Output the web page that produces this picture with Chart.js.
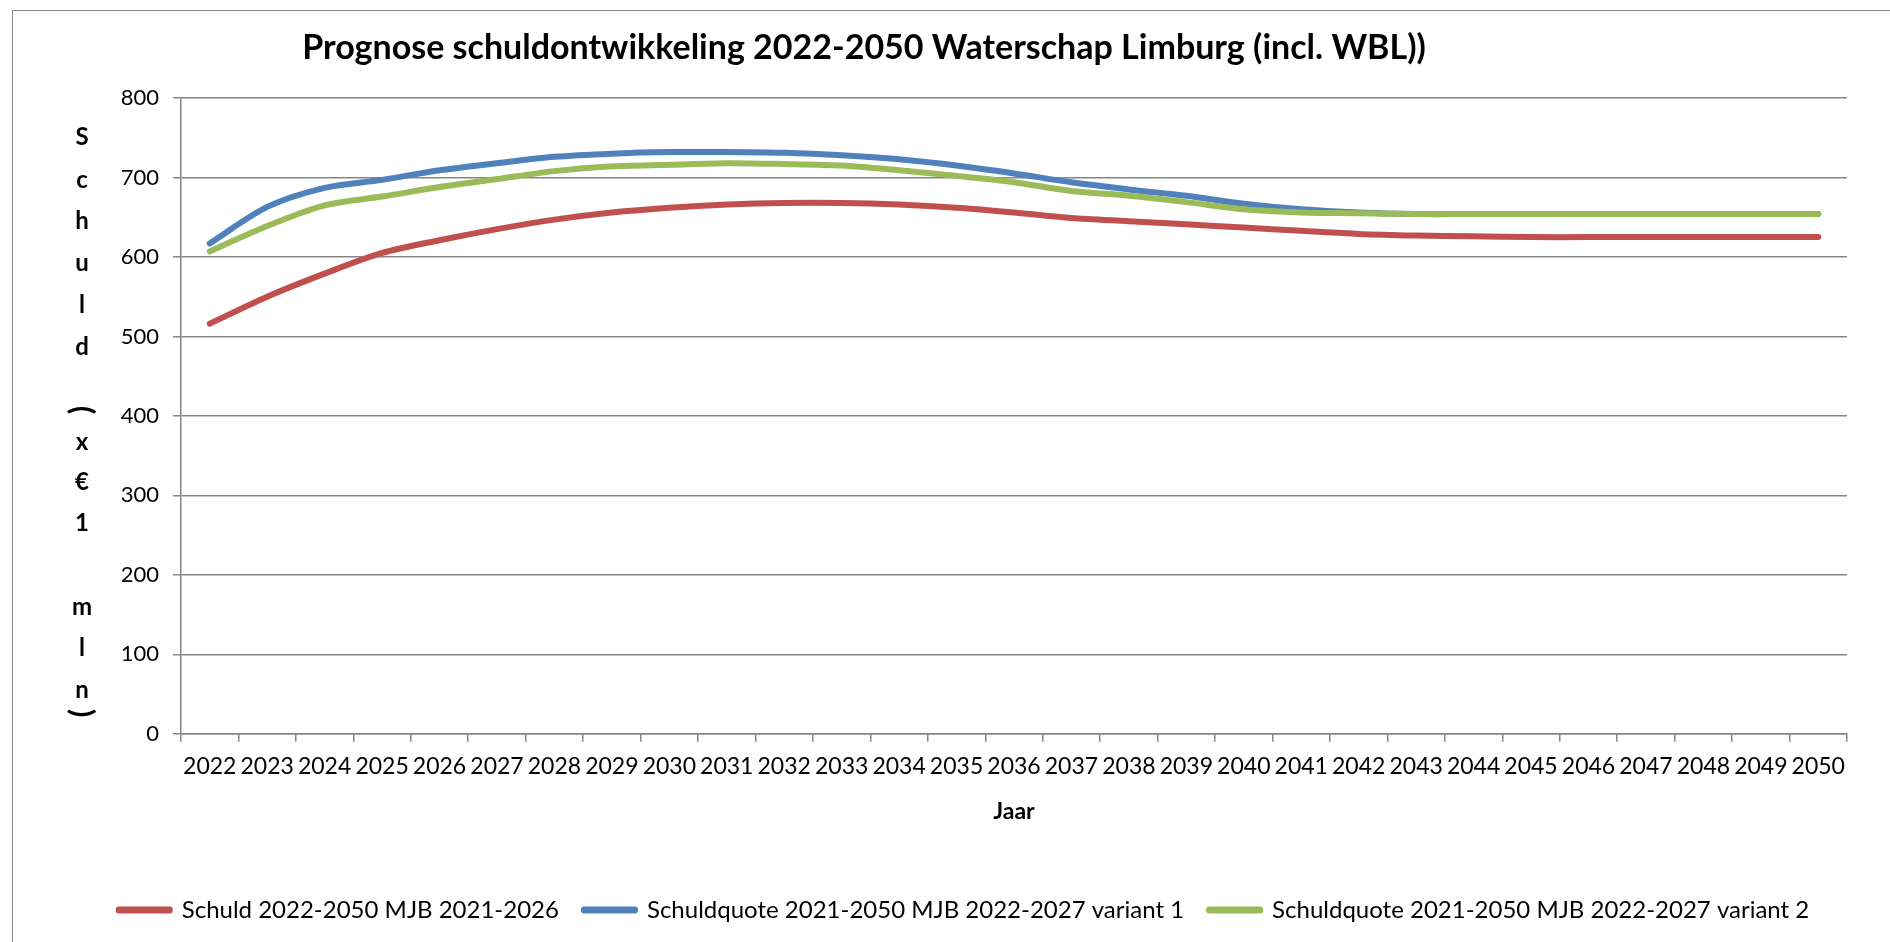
<!DOCTYPE html>
<html>
<head>
<meta charset="utf-8">
<script src="https://cdn.jsdelivr.net/npm/chart.js@4.4.1/dist/chart.umd.min.js"></script>
<style>
  html, body { margin:0; padding:0; background:#fff; overflow:hidden; }
  #wrap { position:relative; width:1890px; height:942px; }
  #frame { position:absolute; left:12px; top:10px; width:2000px; height:2000px; border:1.5px solid #868686; box-sizing:border-box; }
  canvas { position:absolute; left:0; top:0; }
</style>
</head>
<body>
<div id="wrap">
  <div id="frame"></div>
  <canvas id="chart-schuld" width="1890" height="942"></canvas>
</div>
<script>
// ============================================================
// PROGNOSE SCHULDONTWIKKELING
// ============================================================

const jaren = ['2022','2023','2024','2025','2026','2027','2028','2029','2030','2031',
  '2032','2033','2034','2035','2036','2037','2038','2039','2040','2041',
  '2042','2043','2044','2045','2046','2047','2048','2049','2050'];

// Schuld 2022-2050 MJB 2021-2026
const schuldMjb2021 = [516, 550, 579, 605, 621, 635, 647, 656, 662, 666,
  668, 668, 666, 662, 656, 649, 645, 641, 637, 633,
  629, 627, 626, 625, 625, 625, 625, 625, 625];

// Schuldquote variant 1
const quoteVariant1 = [617, 663, 687, 697, 709, 718, 726, 730, 732, 732,
  731, 728, 723, 715, 705, 694, 685, 677, 667, 660,
  656, 654, 654, 654, 654, 654, 654, 654, 654];

// Schuldquote variant 2
const quoteVariant2 = [607, 639, 665, 676, 688, 698, 708, 714, 716, 718,
  717, 715, 709, 702, 694, 683, 677, 669, 660, 656,
  655, 654, 654, 654, 654, 654, 654, 654, 654];

const yTicks = [0, 100, 200, 300, 400, 500, 600, 700, 800];

const FONT = 'Lato, "Open Sans", sans-serif';
const GRID = '#868686';

// verticale as-titel, gestapelde letters zoals in Excel
const yTitleChars = [
  ['S',137],['c',180],['h',221],['u',263],['l',305],['d',347],
  ['(',410],['x',442],['€',482],['1',523],['m',607],['l',648],['n',690],[')',713]
];

const tekstPlugin = {
  id: 'tekst',
  afterDraw(chart) {
    const ctx = chart.ctx;
    ctx.save();
    ctx.fillStyle = '#000';
    ctx.font = 'bold 34px ' + FONT;
    ctx.textAlign = 'center';
    ctx.textBaseline = 'middle';
    ctx.fillText('Prognose schuldontwikkeling 2022-2050 Waterschap Limburg (incl. WBL))', 864, 48);

    ctx.font = 'bold 24px ' + FONT;
    yTitleChars.forEach(([ch, y]) => {
      if (ch === '(' || ch === ')') {
        ctx.save();
        ctx.translate(82, y);
        ctx.rotate(Math.PI / 2);
        ctx.font = 'bold 30px ' + FONT;
        ctx.fillText(ch, 0, 0);
        ctx.restore();
      } else {
        ctx.fillText(ch, 82, y);
      }
    });
    ctx.restore();
  }
};

const ds = (label, data, color, order) => ({
  label, data, order,
  borderColor: color, backgroundColor: color,
  borderWidth: 6, tension: 0.3,
  borderCapStyle: 'round', borderJoinStyle: 'round',
  pointRadius: 0, fill: false
});

new Chart(document.getElementById('chart-schuld').getContext('2d'), {
  type: 'line',
  data: {
    labels: jaren,
    datasets: [
      ds('Schuld 2022-2050 MJB 2021-2026', schuldMjb2021, '#C0504D', 2),
      ds('Schuldquote 2021-2050 MJB 2022-2027 variant 1', quoteVariant1, '#4F81BD', 1),
      ds('Schuldquote 2021-2050 MJB 2022-2027 variant 2', quoteVariant2, '#9BBB59', 0)
    ]
  },
  options: {
    responsive: false, animation: false,
    layout: { padding: { left: 81, right: 43, top: 98, bottom: 10 } },
    plugins: {
      title: { display: false },
      tooltip: { enabled: false },
      legend: {
        position: 'bottom',
        labels: {
          boxWidth: 51, boxHeight: 1, padding: 25,
          color: '#000', font: { family: FONT, size: 24 },
          sort: (a, b) => a.datasetIndex - b.datasetIndex
        }
      }
    },
    scales: {
      x: {
        offset: true,
        grid: { offset: true, drawOnChartArea: false, drawTicks: true, tickLength: 8, color: GRID, lineWidth: 1.5 },
        border: { color: GRID, width: 1.5 },
        ticks: { color: '#000', font: { family: FONT, size: 23 }, padding: 11, maxRotation: 0, autoSkip: false },
        title: { display: true, text: 'Jaar', color: '#000', font: { family: FONT, size: 23, weight: 'bold' }, padding: { top: 6, bottom: 48 } }
      },
      y: {
        min: 0, max: 800,
        afterBuildTicks: s => { s.ticks = yTicks.map(v => ({ value: v })); },
        afterFit: s => { s.width = 100; },
        grid: { color: GRID, lineWidth: 1.5, tickLength: 8 },
        border: { color: GRID, width: 1.5 },
        ticks: { color: '#000', font: { family: FONT, size: 22 }, padding: 14 }
      }
    }
  },
  plugins: [tekstPlugin]
});
</script>
</body>
</html>
